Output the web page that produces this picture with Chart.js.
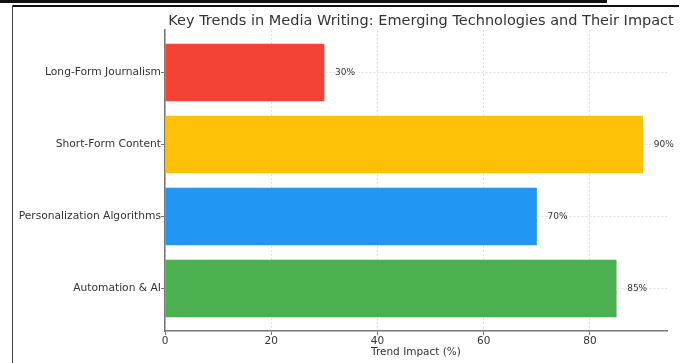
<!DOCTYPE html>
<html>
<head>
<meta charset="utf-8">
<title>Key Trends in Media Writing</title>
<script src="https://cdn.jsdelivr.net/npm/chart.js@4/dist/chart.umd.min.js"></script>
<style>
  html, body { margin: 0; padding: 0; background: #fff; }
  #wrap { position: relative; width: 684px; height: 363px; overflow: hidden; }
  .rule { position: absolute; background: #111; }
</style>
</head>
<body>
<div id="wrap">
  <canvas id="trendChart" width="684" height="363"></canvas>
  <div class="rule" style="left:0;top:0;width:607px;height:3px"></div>
  <div class="rule" style="left:12px;top:5px;width:667px;height:2px"></div>
  <div class="rule" style="left:12px;top:5px;width:1px;height:358px;background:#444"></div>
</div>
<script>
// ---------------- Data (bottom to top, like the picture) ----------------
const categories = [ 'Automation & AI', 'Personalization Algorithms', 'Short-Form Content', 'Long-Form Journalism' ] ;
const impact = [ 85, 70, 90, 30 ] ;
const barColors = [ '#4CAF50', '#2196F3', '#FFC107', '#F44336' ] ;
const xTicks = [ 0, 20, 40, 60, 80 ] ;

const chartTitle = 'Key Trends in Media Writing: Emerging Technologies and Their Impact' ;
const xTitle = 'Trend Impact (%)' ;

const FONT = '"DejaVu Sans", "Liberation Sans", sans-serif' ;
const gridColor = 'rgba(185,185,185,0.55)' ;

// title drawn over the plot
const titlePlugin = {
    id: 'titlePlugin',
    afterDraw( chart ) {
        const { ctx, chartArea } = chart ;
        ctx.save() ;
        ctx.font = '14.5px ' + FONT ;
        ctx.fillStyle = '#333' ;
        ctx.textAlign = 'center' ;
        ctx.textBaseline = 'middle' ;
        ctx.fillText( chartTitle, ( chartArea.left + chartArea.right ) / 2 + 5, 21 ) ;
        ctx.restore() ;
    }
} ;

// "85%" etc next to each bar
const valueLabels = {
    id: 'valueLabels',
    afterDraw( chart ) {
        const { ctx, scales: { x, y } } = chart ;
        ctx.save() ;
        ctx.font = '9px ' + FONT ;
        ctx.fillStyle = '#333' ;
        ctx.textBaseline = 'middle' ;
        impact.forEach( ( v, i ) => {
            ctx.fillText( v + '%', x.getPixelForValue( v + 2 ), y.getPixelForValue( i ) ) ;
        } ) ;
        ctx.restore() ;
    }
} ;

const ctx = document.getElementById( 'trendChart' ).getContext( '2d' ) ;

new Chart( ctx, {
    type: 'bar',
    data: {
        datasets: [ {
            data: impact.map( ( v, i ) => ( { x: v, y: i } ) ),
            backgroundColor: barColors,
            borderWidth: 0,
            categoryPercentage: 1,
            barPercentage: 0.8
        } ]
    },
    options: {
        indexAxis: 'y',
        responsive: false,
        animation: false,
        layout: { padding: { top: 30, right: 17, left: 0, bottom: 0 } },
        plugins: {
            legend: { display: false },
            tooltip: { enabled: false },
            title: { display: false }
        },
        scales: {
            x: {
                type: 'linear',
                min: 0,
                max: 94.5,
                z: 1,
                afterBuildTicks: scale => { scale.ticks = xTicks.map( v => ( { value: v } ) ) ; },
                afterFit: scale => { scale.height = 32 ; },
                grid: { color: gridColor, lineWidth: 0.8, tickLength: 4, tickColor: '#777', tickWidth: 1 },
                border: { color: '#777', width: 1.5, dash: [ 2, 2 ] },
                ticks: { color: '#333', font: { family: FONT, size: 10.5 }, padding: 0 },
                title: { display: true, text: xTitle, color: '#333', font: { family: FONT, size: 10.5 }, padding: { top: 0, bottom: 4 } }
            },
            y: {
                type: 'linear',
                min: -0.59,
                max: 3.59,
                offset: false,
                z: 1,
                afterBuildTicks: scale => { scale.ticks = categories.map( ( c, i ) => ( { value: i } ) ) ; },
                afterFit: scale => { scale.width = 165 ; },
                grid: { offset: false, color: gridColor, lineWidth: 0.8, tickLength: 4, tickColor: '#777', tickWidth: 1 },
                border: { color: '#777', width: 1.5, dash: [ 2, 2 ] },
                ticks: {
                    color: '#333',
                    font: { family: FONT, size: 10.7 },
                    padding: 0,
                    callback: v => categories[ v ]
                }
            }
        }
    },
    plugins: [ titlePlugin, valueLabels ]
} ) ;
</script>
</body>
</html>
